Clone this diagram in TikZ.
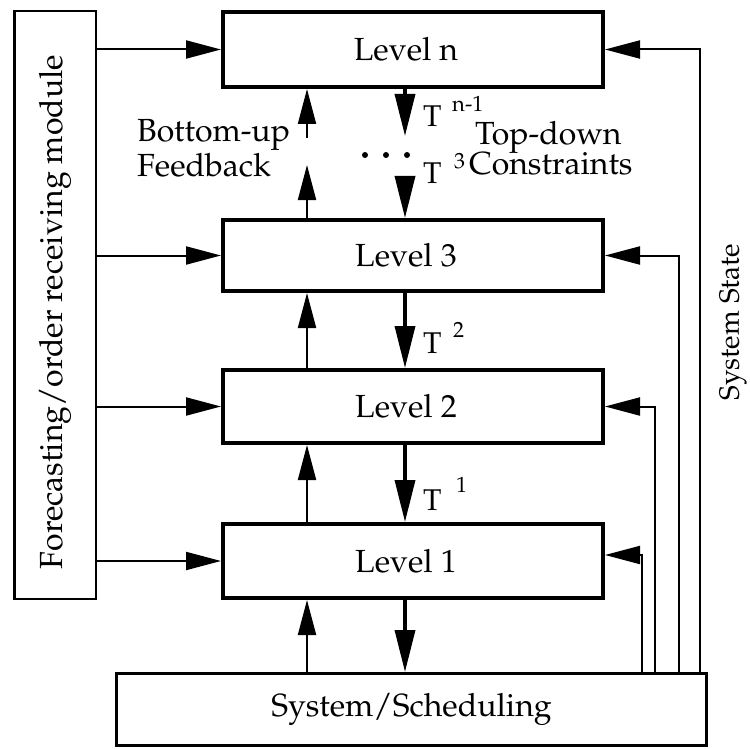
\documentclass[tikz,border=0pt]{standalone}
\usepackage[T1]{fontenc}
\usepackage{mathpazo}
\usetikzlibrary{arrows.meta}

\begin{document}
\begin{tikzpicture}[x=1pt,y=-1pt,
  lvl/.style={draw, line width=4pt, minimum width=380pt, inner sep=0pt},
  txt/.style={inner sep=0pt, font=\fontsize{32}{38}\selectfont},
  tlbl/.style={inner sep=0pt, anchor=base west, font=\fontsize{30}{36}\selectfont},
  suplbl/.style={inner sep=0pt, anchor=base west, font=\fontsize{22}{26}\selectfont},
  sarr/.style={line width=2pt, -{Triangle[length=35pt,width=18pt]}},
  darr/.style={line width=3.5pt, -{Triangle[length=42pt,width=20pt]}}]

\useasboundingbox (0,0) rectangle (750,749);

% input module on the left and the scheduling system at the bottom
\node[draw, line width=2.5pt, minimum width=81.5pt, minimum height=587.5pt, inner sep=0pt]
  (fore) at (55,305) {};
\node[txt, rotate=90] (foretxt) at (55,312) {Forecasting/order receiving module};
\node[draw, line width=3pt, minimum width=590pt, minimum height=72pt, inner sep=0pt,
  font=\fontsize{32}{38}\selectfont] (sys) at (411.5,709.5) {System/Scheduling};

% the hierarchy of levels
\node[lvl, minimum height=75pt] (levn) at (413,49.5) {};
\node[lvl, minimum height=71pt] (lev3) at (413,255.5) {};
\node[lvl, minimum height=73pt] (lev2) at (413,406.5) {};
\node[lvl, minimum height=74pt] (lev1) at (413,561) {};
\node[txt] (levntxt) at ([xshift=-7pt]levn.center) {Level n};
\node[txt] (lev3txt) at ([xshift=-7pt]lev3.center) {Level 3};
\node[txt] (lev2txt) at ([xshift=-7pt]lev2.center) {Level 2};
\node[txt] (lev1txt) at ([xshift=-7pt]lev1.center) {Level 1};

% columns of the vertical connectors
\coordinate (ucol) at (307,0);
\coordinate (dcol) at (405,0);
\coordinate (r1) at (642,0);
\coordinate (r2) at (655,0);
\coordinate (r3) at (679,0);
\coordinate (r4) at (700,0);

% inputs from the forecasting module
\foreach \t in {levn,lev3,lev2,lev1}
  \draw[sarr] (fore.east |- \t.west) -- (\t.west);

% bottom-up feedback
\coordinate (ubrk1) at (307,165);
\coordinate (ubrk2) at (307,138);
\draw[sarr] (sys.north -| ucol) -- (lev1.south -| ucol);
\draw[sarr] (lev1.north -| ucol) -- (lev2.south -| ucol);
\draw[sarr] (lev2.north -| ucol) -- (lev3.south -| ucol);
\draw[sarr] (lev3.north -| ucol) -- (ubrk1);
\draw[sarr] (ubrk2) -- (levn.south -| ucol);

% top-down constraints
\coordinate (dbrk1) at (405,136);
\coordinate (dbrk2) at (405,176);
\draw[darr] (levn.south -| dcol) -- (dbrk1);
\draw[darr] (dbrk2) -- (lev3.north -| dcol);
\draw[darr] (lev3.south -| dcol) -- (lev2.north -| dcol);
\draw[darr] (lev2.south -| dcol) -- (lev1.north -| dcol);
\draw[darr] (lev1.south -| dcol) -- (sys.north -| dcol);

% ellipsis between level 3 and level n
\fill (365,155) circle (3pt) (386,155) circle (3pt) (407,155) circle (3pt);

% system state returned to every level
\draw[sarr] (sys.north -| r1) |- ([yshift=6pt]lev1.east);
\draw[sarr] (sys.north -| r2) |- (lev2.east);
\draw[sarr] (sys.north -| r3) |- (lev3.east);
\draw[sarr] (sys.north -| r4) |- (levn.east);
\node[inner sep=0pt, rotate=90, font=\fontsize{28}{34}\selectfont] (sstate) at (733,322) {System State};

% labels
\node[txt, anchor=base west] (bu1) at (137,142) {Bottom-up};
\node[txt, anchor=base west] (bu2) at (137,177) {Feedback};
\node[txt, anchor=base west] (td1) at (475,145) {Top-down};
\node[txt, anchor=base west] (td2) at (469,175) {Constraints};

\node[tlbl] (tn) at (423,127) {T};
\node[suplbl] (tnsup) at (452,112) {n-1};
\node[tlbl] (t3) at (423,184) {T};
\node[suplbl] (t3sup) at (454,168) {3};
\node[tlbl] (t2) at (423,353) {T};
\node[suplbl] (t2sup) at (453,337) {2};
\node[tlbl] (t1) at (423,510) {T};
\node[suplbl] (t1sup) at (456,492) {1};
\end{tikzpicture}
\end{document}
